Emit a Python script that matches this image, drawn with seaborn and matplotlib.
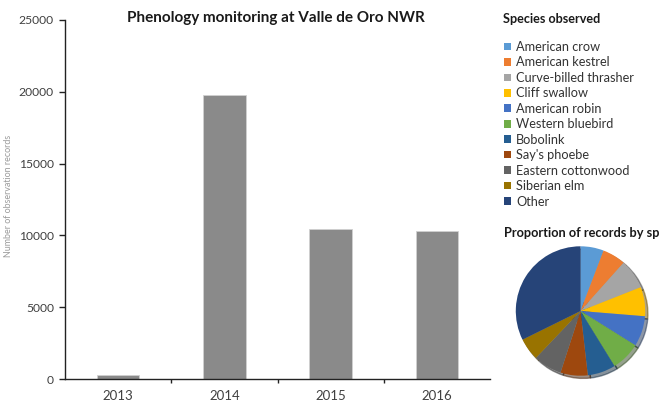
import matplotlib
matplotlib.use("Agg")
import matplotlib.pyplot as plt
import seaborn as sns
import pandas as pd
from matplotlib.patches import Patch

years = ["2013", "2014", "2015", "2016"]
records = [250, 19750, 10430, 10330]

species = ["American crow", "American kestrel", "Curve-billed thrasher", "Cliff swallow",
           "American robin", "Western bluebird", "Bobolink", "Say's phoebe",
           "Eastern cottonwood", "Siberian elm", "Other"]
proportions = [5.8, 5.8, 7.4, 7.3, 7.6, 7.3, 7.0, 6.8, 7.1, 5.6, 32.3]
colors = ["#5B9BD5", "#ED7D31", "#A5A5A5", "#FFC000", "#4472C4", "#70AD47",
          "#255E91", "#9E480E", "#636363", "#997300", "#264478"]

sns.set_theme(style="white")
plt.rcParams['font.family'] = ['Lato', 'DejaVu Sans']

W, H = 663, 403
fig = plt.figure(figsize=(6.63, 4.03), dpi=100)
ax = fig.add_axes([65/W, 1-379/H, 425/W, 359/H])

df = pd.DataFrame({"year": years, "records": records})
sns.barplot(data=df, x="year", y="records", color="#8a8a8a", width=0.4,
            saturation=1, edgecolor="#d0d0d0", linewidth=0.6, ax=ax)

ax.set_ylim(0, 25000)
ax.set_yticks(range(0, 25001, 5000))
ax.set_xlim(-0.5, 3.5)
ax.set_xlabel("")
ax.set_ylabel("Number of observation records", fontsize=6.4, color="#9a9a9a")
ax.yaxis.set_label_coords((13-65)/425, 0.51)
for s in ["top", "right"]:
    ax.spines[s].set_visible(False)
for s in ["left", "bottom"]:
    ax.spines[s].set_color("#222222")
    ax.spines[s].set_linewidth(1.0)
ax.tick_params(axis="y", which="major", direction="out", length=4, width=1,
               color="#222222", labelsize=8.7, labelcolor="#404040", pad=4, left=True)
ax.tick_params(axis="x", which="major", length=0, labelsize=9.5, labelcolor="#404040", pad=8)
ax.set_xticks([0.5, 1.5, 2.5], minor=True)
ax.tick_params(axis="x", which="minor", direction="out", length=3, width=1,
               color="#222222", bottom=True)

fig.text(276/W, 1-18/H, "Phenology monitoring at Valle de Oro NWR",
         ha="center", va="center", fontsize=11, fontweight="bold", color="#1a1a1a")

fig.text(503/W, 1-19/H, "Species observed", ha="left", va="center",
         fontsize=9.1, fontweight="bold", color="#1a1a1a")
handles = [Patch(facecolor=c, edgecolor="none") for c in colors]
fig.legend(handles, species, loc="upper left", bbox_to_anchor=(504/W, 1-41/H),
           frameon=False, fontsize=9.2, handlelength=0.55, handleheight=0.55,
           handletextpad=0.4, labelspacing=0.27, borderpad=0, borderaxespad=0,
           labelcolor="#333333")

fig.text(504/W, 1-233/H, "Proportion of records by sp", ha="left", va="center",
         fontsize=9.2, fontweight="bold", color="#1a1a1a")

pax = fig.add_axes([514.5/W, 1-377/H, 132/W, 132/H])
pax.pie(proportions, colors=colors, startangle=90, counterclock=False,
        wedgeprops=dict(edgecolor="none"), shadow=dict(ox=0.03, oy=-0.03, shade=0.6, alpha=0.5))
pax.set_aspect("equal")
pax.set_xlim(-1.02, 1.02)
pax.set_ylim(-1.02, 1.02)
pax.axis("off")

fig.savefig("out.png", dpi=100)
